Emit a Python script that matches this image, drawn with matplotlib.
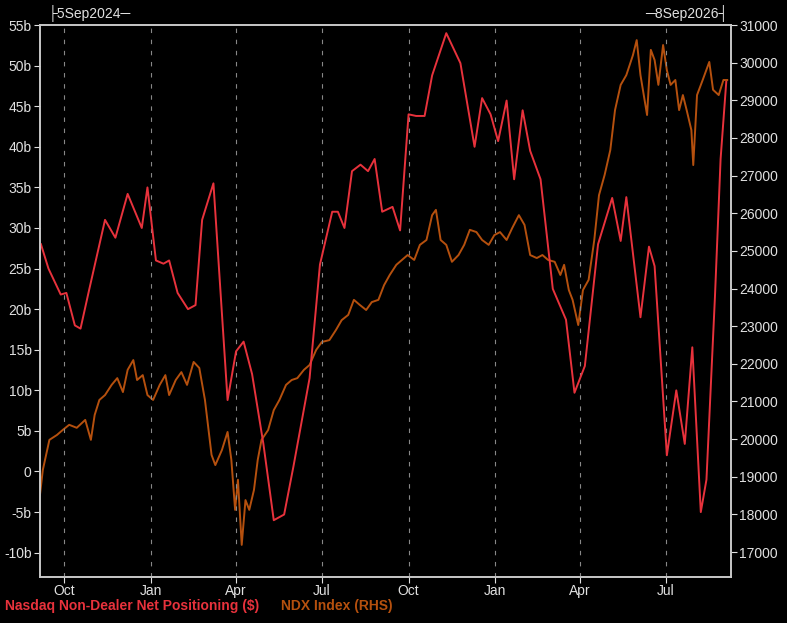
import matplotlib
matplotlib.use("Agg")
import matplotlib.pyplot as plt
import matplotlib.dates as mdates
import pandas as pd
from matplotlib import font_manager

names = {f.name for f in font_manager.fontManager.ttflist}
fam = "Liberation Sans Narrow" if "Liberation Sans Narrow" in names else "Liberation Sans"
plt.rcParams['font.family'] = [fam, 'DejaVu Sans']

start = pd.Timestamp("2024-09-05")
end = pd.Timestamp("2026-09-08")

red_dates = ["2024-09-06","2024-09-14","2024-09-27","2024-10-03","2024-10-12","2024-10-18","2024-10-27",
 "2024-11-13","2024-11-24","2024-12-07","2024-12-22","2024-12-28","2025-01-06","2025-01-14","2025-01-20",
 "2025-01-29","2025-02-09","2025-02-17","2025-02-24","2025-03-08","2025-03-23","2025-04-01","2025-04-09",
 "2025-04-18","2025-04-30","2025-05-11","2025-05-22","2025-06-01","2025-06-18","2025-06-29","2025-07-12",
 "2025-07-18","2025-07-25","2025-08-02","2025-08-11","2025-08-19","2025-08-26","2025-09-03","2025-09-14",
 "2025-09-22","2025-10-01","2025-10-09","2025-10-18","2025-10-26","2025-11-10","2025-11-25","2025-12-10",
 "2025-12-18","2025-12-27","2026-01-04","2026-01-13","2026-01-21","2026-01-30","2026-02-07","2026-02-18",
 "2026-03-03","2026-03-17","2026-03-26","2026-04-06","2026-04-20","2026-05-05","2026-05-14","2026-05-20",
 "2026-06-04","2026-06-13","2026-06-19","2026-07-02","2026-07-12","2026-07-21","2026-07-29","2026-08-07",
 "2026-08-13","2026-08-22","2026-08-28","2026-09-03"]
red_vals = [28,25,21.8,22,18,17.6,22.3,31,28.8,34.2,30,35,26,25.6,26,22,20,20.5,31,35.5,8.8,14.8,16,12,
 3.4,-6,-5.3,0.7,11.5,25.5,32,32,30,37,37.8,37,38.5,32,32.6,29.7,44,43.8,43.8,48.8,54,50.3,40,46,44,40.7,
 45.7,36,44.5,39.5,36,22.5,18.7,9.7,13,28,33.7,28.4,33.8,19,27.7,25.3,2,10,3.4,15.3,-5,-1,21.5,38.5,48]

ndx_days = [0,3,10,18,24,31,39,48,54,58,63,69,76,82,88,93,99,103,109,114,120,127,133,137,144,150,156,163,
 169,175,182,186,193,199,203,207,210,214,218,222,227,231,235,242,248,254,261,267,273,280,286,293,299,307,
 314,320,327,333,339,346,352,359,365,371,378,384,390,397,403,410,416,420,425,431,437,444,450,456,463,469,
 476,482,488,495,501,508,514,520,527,533,539,546,552,556,561,565,571,576,582,588,593,599,605,610,616,622,
 629,633,637,644,648,652,656,661,665,669,674,678,682,686,691,693,697,703,710,714,720,725,729]
ndx_vals = [18520,19180,19980,20110,20240,20380,20300,20510,19980,20640,21040,21170,21440,21620,21250,21840,
 22100,21570,21700,21170,21040,21440,21700,21170,21570,21780,21440,22050,21890,21040,19580,19310,19710,20190,
 19450,18120,18920,17190,18380,18120,18650,19450,19980,20240,20770,21040,21440,21570,21620,21840,21970,22370,
 22580,22630,22900,23160,23300,23700,23570,23430,23640,23700,24090,24360,24630,24760,24890,24760,25160,25290,
 25950,26090,25290,25160,24710,24890,25160,25560,25500,25290,25160,25420,25500,25290,25610,25950,25690,24890,
 24810,24890,24760,24710,24360,24630,23960,23700,23030,23960,24230,25290,26480,27020,27680,28740,29410,29670,
 30200,30600,29670,28610,30340,30070,29410,30470,29800,29410,29540,28740,29140,28740,28210,27280,29140,29540,
 30020,29280,29140,29540,29540]

red_c = "#e8323c"
org_c = "#b5500e"
fg = "#e0e0e0"

fig = plt.figure(figsize=(7.87, 6.23), dpi=100, facecolor="black")
ax = fig.add_axes([0.0508, 0.0738, 0.878, 0.886], facecolor="black")
ax2 = ax.twinx()
ax.set_zorder(ax2.get_zorder() + 1)
ax.patch.set_visible(False)

ndx_x = [start + pd.Timedelta(days=d) for d in ndx_days]
ax2.plot(ndx_x, ndx_vals, color=org_c, lw=1.4)
ax.plot(pd.to_datetime(red_dates), red_vals, color=red_c, lw=1.4)

ax.set_xlim(start, end)
ax.set_ylim(-13, 55)
ax2.set_ylim(16336, 31000)
ax.set_yticks(range(-10, 56, 5))
ax.set_yticklabels([f"{v}b" if v != 0 else "0" for v in range(-10, 56, 5)])
ax2.set_yticks(range(17000, 31001, 1000))
ax.xaxis.set_major_locator(mdates.MonthLocator(bymonth=[1, 4, 7, 10]))
ax.xaxis.set_major_formatter(mdates.DateFormatter("%b"))
ax.grid(axis="x", color="#888888", ls=(0, (4, 6)), lw=0.8)

for a in (ax, ax2):
    for s in a.spines.values():
        s.set_color("#c8c8c8")
        s.set_linewidth(1.2)
    a.tick_params(colors=fg, labelsize=10, length=4, pad=2)
ax.tick_params(axis="x", pad=1)

fig.text(0.06, 0.978, "├5Sep2024─", color=fg, fontsize=10, va="center", ha="left",
         family=[fam, 'DejaVu Sans'])
fig.text(0.925, 0.978, "─8Sep2026┤", color=fg, fontsize=10, va="center", ha="right",
         family=[fam, 'DejaVu Sans'])
fig.text(0.006, 0.027, "Nasdaq Non-Dealer Net Positioning ($)", color=red_c, fontsize=10, va="center",
         fontweight="bold")
fig.text(0.357, 0.027, "NDX Index (RHS)", color=org_c, fontsize=10, va="center", fontweight="bold")

fig.savefig("out.png", dpi=100, facecolor="black")
